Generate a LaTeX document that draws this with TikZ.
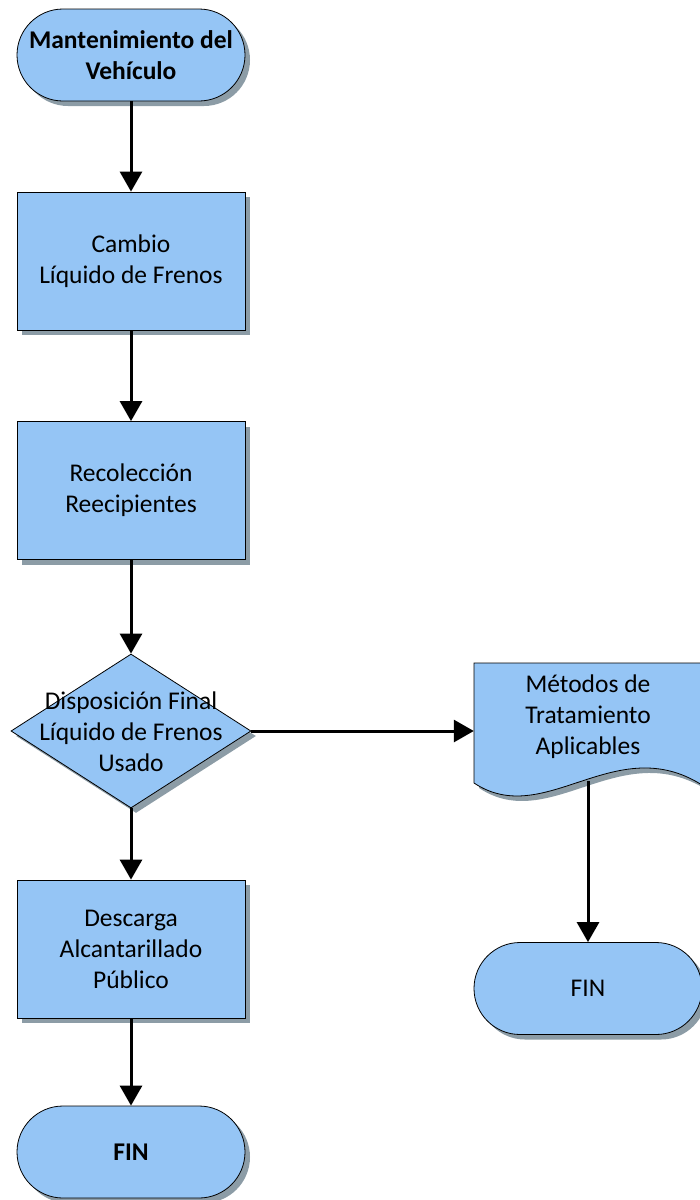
\documentclass[tikz,border=0pt]{standalone}
\usepackage{fontspec}
\setmainfont{Carlito}
\usetikzlibrary{arrows.meta,shadows,shapes.geometric}
\definecolor{boxfill}{RGB}{149,197,245}
\definecolor{shadowgrey}{RGB}{140,156,166}
\tikzset{
  x=1pt, y=-1pt,
  flowshadow/.style={drop shadow={shadow xshift=5pt, shadow yshift=-5pt, fill=shadowgrey, opacity=1}},
  procbox/.style={draw=black, line width=0.8pt, fill=boxfill, flowshadow,
    minimum width=228pt, minimum height=138pt, inner sep=0pt, align=center},
  termbox/.style={draw=black, line width=0.8pt, fill=boxfill, flowshadow, rounded corners=46pt,
    minimum width=228pt, minimum height=92pt, inner sep=0pt, align=center},
  decbox/.style={diamond, draw=black, line width=0.8pt, fill=boxfill, flowshadow,
    minimum width=240pt, minimum height=154pt, inner sep=0pt},
  txt/.style={align=center, inner sep=0pt},
  flow/.style={line width=3pt, -{Triangle[length=20pt,width=22pt]}},
}
\begin{document}
\begin{tikzpicture}[font=\fontsize{25.5}{31}\selectfont]
  \useasboundingbox (0,0) rectangle (700,1200);

  % left column
  \node[termbox, font=\fontsize{25.5}{31}\selectfont\bfseries] (start) at (131,55) {Mantenimiento del\\Vehículo};
  \node[procbox] (cambio) at (131,261) {Cambio\\Líquido de Frenos};
  \node[procbox] (recol) at (131,490.5) {Recolección\\Reecipientes};
  \node[decbox] (disp) at (131,731) {};
  \node[txt] (disptxt) at (131,732) {Disposición Final\\Líquido de Frenos\\Usado};
  \node[procbox] (desc) at (131,949) {Descarga\\Alcantarillado\\Público};
  \node[termbox, font=\fontsize{25.5}{31}\selectfont\bfseries] (fin1) at (131,1152) {FIN};

  % right column: document shape
  \node[minimum width=228pt, minimum height=118pt, inner sep=0pt] (doc) at (588,722) {};
  \fill[shadowgrey] ([xshift=5pt,yshift=-5pt]474,663) -- ([xshift=5pt,yshift=-5pt]702,663) -- ([xshift=5pt,yshift=-5pt]702,785)
    .. controls ([xshift=5pt,yshift=-5pt]615,730) and ([xshift=5pt,yshift=-5pt]545,830) .. ([xshift=5pt,yshift=-5pt]474,783) -- cycle;
  \filldraw[fill=boxfill, draw=black, line width=0.8pt] (474,663) -- (702,663) -- (702,785)
    .. controls (615,730) and (545,830) .. (474,783) -- cycle;
  \node[txt] (doctxt) at (588,717) {Métodos de\\Tratamiento\\Aplicables};
  \coordinate (docb) at (588,781);

  \node[termbox] (fin2) at (588,988.5) {FIN};

  % connectors
  \draw[flow] (start.south) -- (cambio.north);
  \draw[flow] (cambio.south) -- (recol.north);
  \draw[flow] (recol.south) -- (disp.north);
  \draw[flow] (disp.south) -- (desc.north);
  \draw[flow] (desc.south) -- (fin1.north);
  \draw[flow] (disp.east) -- (disp.east -| doc.west);
  \draw[flow] (docb) -- (fin2.north);
\end{tikzpicture}
\end{document}
